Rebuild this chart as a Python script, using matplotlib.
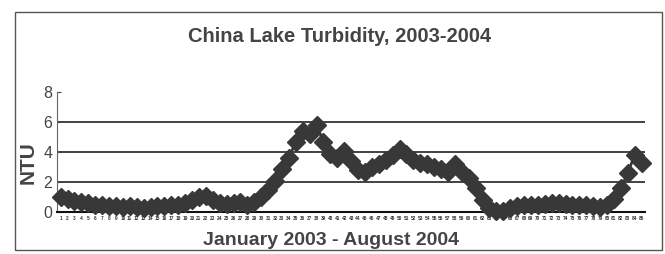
import matplotlib
matplotlib.use('Agg')
import matplotlib.pyplot as plt
from matplotlib.patches import Rectangle

# weekly turbidity samples, Jan 2003 - Aug 2004
ntu = [1.0, 0.85, 0.75, 0.65, 0.6, 0.5, 0.45, 0.42, 0.4, 0.35,
       0.38, 0.35, 0.3, 0.35, 0.4, 0.38, 0.45, 0.5, 0.6, 0.8,
       1.0, 1.1, 0.8, 0.6, 0.55, 0.6, 0.65, 0.45, 0.7, 1.0,
       1.5, 2.1, 2.9, 3.6, 4.7, 5.4, 5.2, 5.8, 4.7, 3.9,
       3.6, 4.1, 3.4, 2.8, 2.7, 3.0, 3.2, 3.5, 3.8, 4.2,
       3.9, 3.5, 3.3, 3.2, 3.0, 2.9, 2.7, 3.2, 2.7, 2.3,
       1.6, 0.8, 0.3, 0.1, 0.1, 0.25, 0.4, 0.45, 0.5, 0.5,
       0.55, 0.6, 0.6, 0.55, 0.5, 0.5, 0.45, 0.4, 0.35, 0.5,
       0.9, 1.6, 2.6, 3.8, 3.3]
weeks = list(range(1, len(ntu) + 1))
yticks = [0, 2, 4, 6, 8]

title = "China Lake Turbidity, 2003-2004"
x_axis = "January 2003 - August 2004"
y_axis = "NTU"

plt.rcParams['font.family'] = ['Liberation Sans', 'DejaVu Sans']
ink = '#383838'

fig = plt.figure(figsize=(6.65, 2.54), dpi=100)
ax = fig.add_axes([0.086, 0.165, 0.884, 0.473])

# outer frame of the scanned chart
fig.patches.append(Rectangle((0.023, 0.016), 0.972, 0.937, transform=fig.transFigure,
                             fill=False, edgecolor='#555555', linewidth=1.0))

for v in yticks[1:-1]:
    ax.axhline(v, color='#222222', linewidth=1.2, zorder=1)

ax.plot(weeks, ntu, color=ink, linewidth=2, marker='D', markersize=9,
        markerfacecolor=ink, markeredgecolor=ink, zorder=3, clip_on=False)

ax.set_xlim(0.5, len(ntu) + 0.5)
ax.set_ylim(0, 8)
ax.set_yticks(yticks)
ax.set_xticks(weeks)
ax.set_xticklabels([str(w) for w in weeks], fontsize=3.4, color='#333333',
                   fontweight='bold')
ax.tick_params(axis='x', length=0, pad=3)
ax.tick_params(axis='y', labelsize=11.5, colors='#444444', length=3, width=0.8, direction='in')

for s in ['top', 'right']:
    ax.spines[s].set_visible(False)
ax.spines['left'].set_color('#666666')
ax.spines['left'].set_linewidth(0.8)
ax.spines['bottom'].set_color('#111111')
ax.spines['bottom'].set_linewidth(1.5)

fig.text(0.51, 0.855, title, ha='center', va='center', fontsize=14.5,
         fontweight='bold', color='#444444')
fig.text(0.497, 0.052, x_axis, ha='center', va='center', fontsize=14,
         fontweight='bold', color='#444444')
fig.text(0.042, 0.36, y_axis, ha='center', va='center', fontsize=15,
         fontweight='bold', color='#444444', rotation=90)

plt.savefig('out.png', dpi=100)
plt.close()
